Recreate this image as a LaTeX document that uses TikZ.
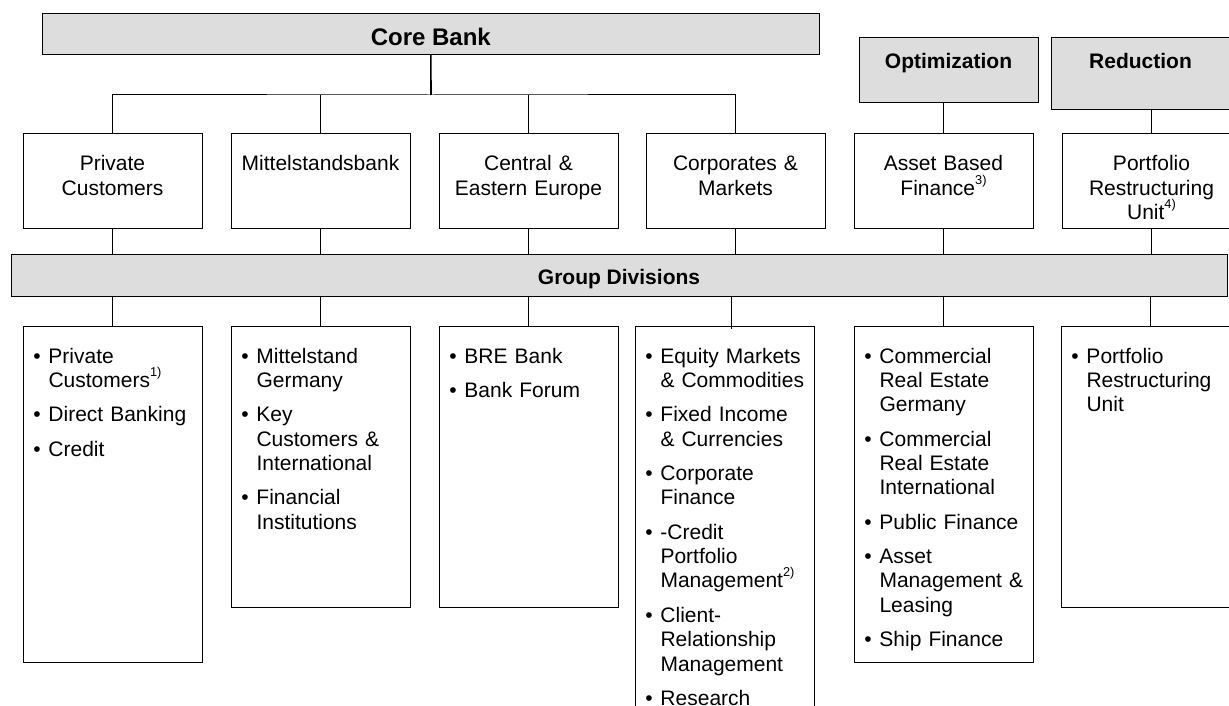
\documentclass[tikz,border=0pt]{standalone}
\usepackage{fontspec}
\setmainfont{Liberation Sans}
\definecolor{hdrgray}{RGB}{221,221,221}
\newcommand{\fn}[1]{\smash{\raisebox{11pt}{\fontsize{12.8}{12.8}\selectfont #1}}}
\newcommand{\bul}[1]{\noindent\hangindent=25.5pt\hangafter=1\hspace*{10.3pt}\makebox[15.2pt][l]{\textbullet}#1\par\vspace{9.9pt}}

\begin{document}
\begin{tikzpicture}[x=1pt,y=-1pt,
	hdr/.style={draw, line width=1pt, fill=hdrgray, anchor=north west, outer sep=0pt, inner ysep=0pt, font=\bfseries\fontsize{21}{24.4}\selectfont},
	unit/.style={draw, line width=1pt, anchor=north west, outer sep=0pt, inner sep=0pt, text width=179pt, align=center, text height=37pt, text depth=57pt, font=\fontsize{21}{24.4}\selectfont},
	divbox/.style={draw, line width=1pt, anchor=north west, outer sep=0pt, inner sep=0pt, text width=179pt, align=left, text height=37pt, font=\fontsize{21}{24.4}\selectfont},
	link/.style={line width=1pt},
	trunk/.style={line width=1.6pt}]
	\useasboundingbox (0,0) rectangle (1229,706);
	\clip (0,0) rectangle (1229,706);
	% segments
	\node[hdr, minimum width=776.3pt, text height=31.9pt, text depth=9.1pt, font=\bfseries\fontsize{24}{28}\selectfont] (core) at (42.7,14) {Core Bank};
	\node[hdr, minimum width=179pt, text height=30.5pt, text depth=34.5pt] (opt) at (859,38) {Optimization};
	\node[hdr, minimum width=179pt, text height=30.5pt, text depth=41.5pt] (red) at (1051,38) {Reduction};
	% units
	\node[unit] (pc) at (23,134) {Private\\Customers};
	\node[unit] (mb) at (231,134) {Mittelstandsbank};
	\node[unit] (cee) at (439,134) {Central \&\\Eastern Europe};
	\node[unit] (cm) at (646,134) {Corporates \&\\Markets};
	\node[unit] (abf) at (854,134) {Asset Based\\Finance\fn{3)}};
	\node[unit] (pru) at (1062,134) {Portfolio\\Restructuring\\Unit\fn{4)}};
	\node[hdr, minimum width=1216pt, text height=30pt, text depth=12pt] (gd) at (11,254) {Group Divisions};
	% divisions
	\node[divbox, text depth=299pt] (pcL) at (23,326) {\bul{Private\newline Customers\fn{1)}}\bul{Direct Banking}\bul{Credit}};
	\node[divbox, text depth=244pt] (mbL) at (231,326) {\bul{Mittelstand\newline Germany}\bul{Key\newline Customers \&\newline International}\bul{Financial\newline Institutions}};
	\node[divbox, text depth=244pt] (ceeL) at (439,326) {\bul{BRE Bank}\bul{Bank Forum}};
	\node[divbox, text depth=400pt] (cmL) at (635,326) {\bul{Equity Markets\newline \& Commodities}\bul{Fixed Income\newline \& Currencies}\bul{Corporate\newline Finance}\bul{-Credit\newline Portfolio\newline Management\fn{2)}}\bul{Client-\newline Relationship\newline Management}\bul{Research}};
	\node[divbox, text depth=299pt] (abfL) at (854,326) {\bul{Commercial\newline Real Estate\newline Germany}\bul{Commercial\newline Real Estate\newline International}\bul{Public Finance}\bul{Asset\newline Management \&\newline Leasing}\bul{Ship Finance}};
	\node[divbox, text depth=244pt] (pruL) at (1061,326) {\bul{Portfolio\newline Restructuring\newline Unit}};
	% connectors
	\coordinate (hub) at (431,95);
	\draw[trunk] (core.south) -- (hub);
	\draw[link] (pc.north) |- (hub) -| (cm.north);
	\draw[link] (mb.north) -- (mb.north |- hub);
	\draw[link] (cee.north) -- (cee.north |- hub);
	\draw[link] (opt.south -| abf.north) -- (abf.north);
	\draw[trunk] (red.south -| pru.north) -- (pru.north);
	\foreach \u in {pc,mb,cee,cm,abf,pru}
		\draw[link] (\u.south) -- (\u.south |- gd.north);
	\foreach \u in {pcL,mbL,ceeL,abfL,pruL}
		\draw[link] (\u.north) -- (\u.north |- gd.south);
	\draw[link] ([xshift=6.5pt,yshift=-3pt]cmL.north) -- ([xshift=6.5pt]cmL.north |- gd.south);
\end{tikzpicture}
\end{document}
